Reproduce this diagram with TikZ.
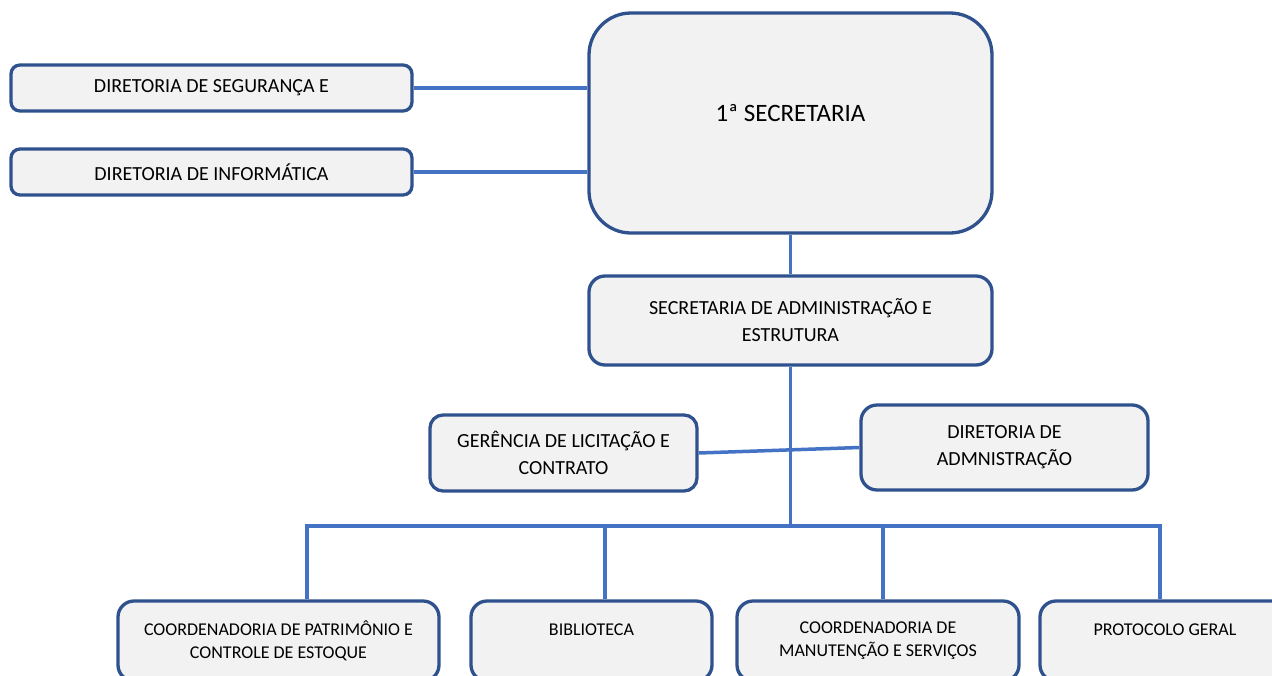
\documentclass[tikz,border=0pt]{standalone}
\usepackage{fontspec}
\setmainfont{Carlito}
\definecolor{bord}{HTML}{2F528F}
\definecolor{conn}{HTML}{4472C4}
\definecolor{boxfill}{HTML}{F2F2F2}
\begin{document}
\begin{tikzpicture}[x=1pt,y=-1pt,
  box/.style={draw=bord, fill=boxfill, line width=3.3pt, inner sep=0pt, align=center,
              font=\fontsize{20}{27}\selectfont},
  smallbox/.style={box, rounded corners=16pt, minimum height=80pt,
              font=\fontsize{18}{23}\selectfont},
  link/.style={draw=conn, line width=3.5pt}]
\useasboundingbox (0,0) rectangle (1272,675);
\clip (0,0) rectangle (1272,675);
\fill[white] (0,0) rectangle (1272,675);

% boxes
\node[box, rounded corners=9pt, minimum width=401pt, minimum height=46pt] (dseg) at (211.5,88) {DIRETORIA DE SEGURANÇA E};
\node[box, rounded corners=9pt, minimum width=401pt, minimum height=46pt] (dinf) at (211.5,172) {DIRETORIA DE INFORMÁTICA};
\node[box, rounded corners=42pt, minimum width=403pt, minimum height=220pt] (sec1) at (790.5,123) {};
\node[font=\fontsize{25}{30}\selectfont] (sec1t) at (790.5,113) {1ª SECRETARIA};
\node[box, rounded corners=16pt, minimum width=403pt, minimum height=89pt] (sae) at (790.5,320.5) {SECRETARIA DE ADMINISTRAÇÃO E\\ESTRUTURA};
\node[box, rounded corners=13pt, minimum width=267pt, minimum height=76pt] (glc) at (563.5,453) {GERÊNCIA DE LICITAÇÃO E\\CONTRATO};
\node[box, rounded corners=16pt, minimum width=287pt, minimum height=85pt] (dadm) at (1004.5,447.5) {DIRETORIA DE\\ADMNISTRAÇÃO};

\node[smallbox, minimum width=321pt] (b1) at (278.5,641) {COORDENADORIA DE PATRIMÔNIO E\\CONTROLE DE ESTOQUE};
\node[smallbox, minimum width=241pt] (b2) at (591.5,641) {BIBLIOTECA\\\phantom{X}};
\node[smallbox, minimum width=282pt] (b3) at (878,641) {COORDENADORIA DE\\MANUTENÇÃO E SERVIÇOS};
\node[smallbox, minimum width=250pt] (b4) at (1165,641) {PROTOCOLO GERAL\\\phantom{X}};

% connectors
\coordinate (bus) at (790.5,526);
\coordinate (d1) at (307,526);
\coordinate (d2) at (605,526);
\coordinate (d3) at (883,526);
\coordinate (d4) at (1160,526);
\draw[link] (dseg.east) -- (dseg.east -| sec1.west);
\draw[link] (dinf.east) -- (dinf.east -| sec1.west);
\draw[link] (sec1.south) -- (sae.north);
\draw[link] (sae.south) -- (bus);
\draw[link] (glc.east) -- (dadm.west);
\draw[link] (d1 |- b1.north) -- (d1) -- (d4) -- (d4 |- b4.north);
\draw[link] (d2) -- (d2 |- b2.north);
\draw[link] (d3) -- (d3 |- b3.north);
\end{tikzpicture}
\end{document}
